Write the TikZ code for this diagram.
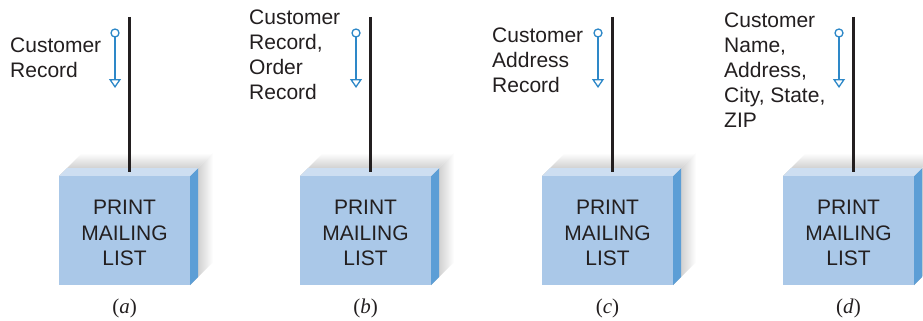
\documentclass[tikz,border=0pt]{standalone}
\usepackage{fontspec}
\setmainfont{Liberation Sans}
\newfontfamily\capfont{Liberation Serif}
\usetikzlibrary{arrows.meta}
\definecolor{frontc}{HTML}{AAC8E8}
\definecolor{topc}{HTML}{CDDEF1}
\definecolor{sidec}{HTML}{5C9ED6}
\definecolor{flowc}{HTML}{2E88C8}
\definecolor{inkc}{HTML}{231F20}
\definecolor{shadc}{HTML}{B8B8B8}
\tikzset{
  lbl/.style={font=\fontsize{21}{25}\selectfont, align=left, inner sep=0pt, text=inkc},
  boxtxt/.style={font=\fontsize{21}{25.5}\selectfont, align=center, inner sep=0pt, text=inkc},
  frontbox/.style={fill=frontc, draw=none, minimum width=131pt, minimum height=109pt, inner sep=0pt},
  conn/.style={draw=inkc, line width=3pt},
  dataflow/.style={draw=flowc, line width=1.3pt, -{Triangle[open, length=9pt, width=12pt, line width=1.3pt]}},
  capt/.style={font=\capfont\fontsize{21}{25}\selectfont, text=inkc, inner sep=0pt}
}
\begin{document}
\begin{tikzpicture}[x=1pt,y=-1pt]
\clip (0,0) rectangle (923,321);
\fill[white] (0,0) rectangle (923,321);
\foreach \i/\lx/\tx/\ty/\txt/\cp in {
  a/129/10/37.5/{Customer\\Record}/a,
  b/370/249/10/{Customer\\Record,\\Order\\Record}/b,
  c/612/492/28/{Customer\\Address\\Record}/c,
  d/853/724/13/{Customer\\Name,\\Address,\\City, State,\\ZIP}/d}{
  % shadow
  \shade[top color=white, bottom color=shadc] (\lx-70,176) -- (\lx-47,153) -- (\lx+84,153) -- (\lx+61,176) -- cycle;
  \shade[left color=shadc, right color=white] (\lx+61,176) -- (\lx+84,153) -- (\lx+84,262) -- (\lx+61,285) -- cycle;
  % side and top faces
  \fill[sidec] (\lx+61,176) -- (\lx+69,168) -- (\lx+69,277) -- (\lx+61,285) -- cycle;
  \fill[topc] (\lx-70,176) -- (\lx-62,168) -- (\lx+69,168) -- (\lx+61,176) -- cycle;
  % front face
  \node[frontbox] (box\i) at (\lx-4.5,230.5) {};
  \node[boxtxt] (name\i) at (\lx-4.5,233) {PRINT\\MAILING\\LIST};
  % connector
  \coordinate (src\i) at (\lx,17);
  \coordinate (top\i) at (\lx,172);
  \draw[conn] (src\i) -- (top\i);
  % data flow
  \coordinate (fs\i) at (\lx-14,33);
  \coordinate (fe\i) at (\lx-14,88);
  \draw[dataflow] ([yshift=-4pt]fs\i) -- (fe\i);
  \draw[flowc, line width=1.3pt, fill=white] (fs\i) circle (4pt);
  % label
  \node[lbl, anchor=north west] (lab\i) at (\tx,\ty) {\txt};
  % caption
  \node[capt, anchor=base] (cap\i) at (\lx-4.5,313) {(\textit{\cp})};
}
\end{tikzpicture}
\end{document}
